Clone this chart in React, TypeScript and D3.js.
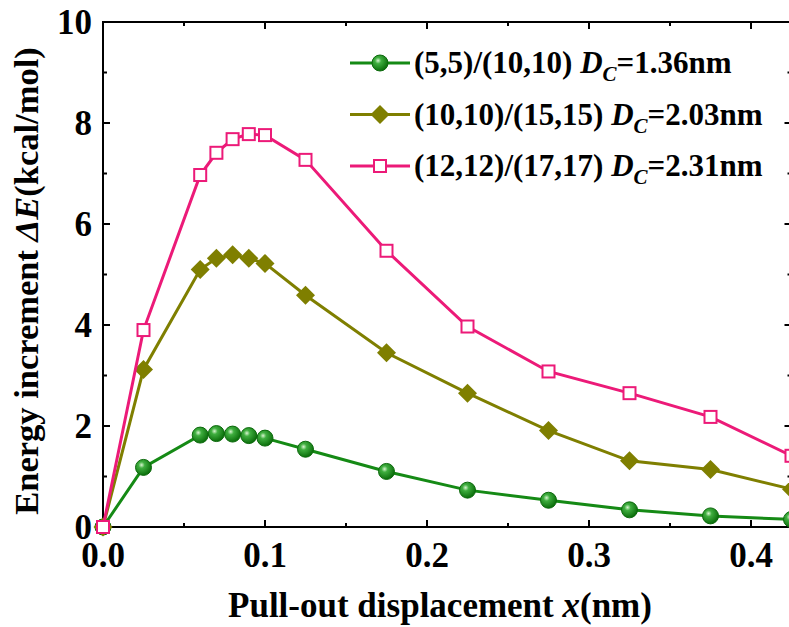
import React from "react";
import * as d3 from "d3";

const xValues = [0, 0.025, 0.06, 0.07, 0.08, 0.09, 0.1, 0.125, 0.175, 0.225, 0.275, 0.325, 0.375, 0.425];
const seriesA = [0, 1.18, 1.82, 1.85, 1.84, 1.81, 1.76, 1.54, 1.1, 0.73, 0.53, 0.34, 0.22, 0.15];
const seriesB = [0, 3.12, 5.1, 5.32, 5.39, 5.32, 5.22, 4.59, 3.45, 2.65, 1.91, 1.31, 1.14, 0.75];
const seriesC = [0, 3.9, 6.97, 7.41, 7.68, 7.78, 7.76, 7.27, 5.47, 3.97, 3.08, 2.65, 2.18, 1.41];
const legendLabels = [
  { pre: "(5,5)/(10,10) ", val: "=1.36nm" },
  { pre: "(10,10)/(15,15) ", val: "=2.03nm" },
  { pre: "(12,12)/(17,17) ", val: "=2.31nm" },
];
const xMajorTicks = [0, 0.1, 0.2, 0.3, 0.4];
const xMinorTicks = [0.05, 0.15, 0.25, 0.35];
const yMajorTicks = [0, 2, 4, 6, 8, 10];
const yMinorTicks = [1, 3, 5, 7, 9];

const W = 789, H = 627;
const L = 103, T = 22, B = 527, R = 791.5;
const GREEN = "#158a15", OLIVE = "#7f7f00", PINK = "#ec1a78";
const font = "'Liberation Serif', 'Times New Roman', serif";

export default function App() {
  const x = d3.scaleLinear().domain([0, 0.425]).range([L, R]);
  const y = d3.scaleLinear().domain([0, 10]).range([B, T]);
  const line = d3.line<number>().x((_, i) => x(xValues[i])).y((d) => y(d));
  const series = [
    { data: seriesA, color: GREEN, marker: "circle" },
    { data: seriesB, color: OLIVE, marker: "diamond" },
    { data: seriesC, color: PINK, marker: "square" },
  ];
  const marker = (type: string, cx: number, cy: number, key: any) => {
    if (type === "circle")
      return <circle key={key} cx={cx} cy={cy} r={8} fill="url(#sphere)" stroke="#0c6a0c" strokeWidth={1} />;
    if (type === "diamond") {
      const s = 9.5;
      return <path key={key} d={`M${cx},${cy - s}L${cx + s},${cy}L${cx},${cy + s}L${cx - s},${cy}Z`} fill={OLIVE} />;
    }
    return <rect key={key} x={cx - 6} y={cy - 6} width={12} height={12} fill="#fff" stroke={PINK} strokeWidth={2} />;
  };
  return (
    <svg width={W} height={H} style={{ position: "absolute", left: 0, top: 0, background: "#fff" }} fontFamily={font}>
      <defs>
        <radialGradient id="sphere" cx="0.38" cy="0.35" r="0.65">
          <stop offset="0" stopColor="#d8f5d0" />
          <stop offset="0.3" stopColor="#3fae3f" />
          <stop offset="1" stopColor="#0b6e0b" />
        </radialGradient>
      </defs>
      {/* frame */}
      <rect x={L} y={T} width={R - L} height={B - T} fill="none" stroke="#000" strokeWidth={2} />
      {/* x ticks */}
      {xMajorTicks.map((t) => (
        <g key={"xm" + t}>
          <line x1={x(t)} x2={x(t)} y1={B} y2={B - 7} stroke="#000" strokeWidth={2} />
          <line x1={x(t)} x2={x(t)} y1={T} y2={T + 7} stroke="#000" strokeWidth={2} />
          <text x={x(t)} y={567} textAnchor="middle" fontSize={35} fontWeight="bold">{t.toFixed(1)}</text>
        </g>
      ))}
      {xMinorTicks.map((t) => (
        <g key={"xn" + t}>
          <line x1={x(t)} x2={x(t)} y1={B} y2={B - 4} stroke="#000" strokeWidth={2} />
          <line x1={x(t)} x2={x(t)} y1={T} y2={T + 4} stroke="#000" strokeWidth={2} />
        </g>
      ))}
      {yMajorTicks.map((t) => (
        <g key={"ym" + t}>
          <line x1={L} x2={L + 7} y1={y(t)} y2={y(t)} stroke="#000" strokeWidth={2} />
          <line x1={R} x2={R - 7} y1={y(t)} y2={y(t)} stroke="#000" strokeWidth={2} />
          <text x={92} y={y(t)} dy="0.33em" textAnchor="end" fontSize={35} fontWeight="bold">{t}</text>
        </g>
      ))}
      {yMinorTicks.map((t) => (
        <g key={"yn" + t}>
          <line x1={L} x2={L + 4} y1={y(t)} y2={y(t)} stroke="#000" strokeWidth={2} />
          <line x1={R} x2={R - 4} y1={y(t)} y2={y(t)} stroke="#000" strokeWidth={2} />
        </g>
      ))}
      {/* series */}
      <g>
        {series.map((s, si) => (
          <g key={si}>
            <path d={line(s.data) || ""} fill="none" stroke={s.color} strokeWidth={3} />
            {s.data.map((d, i) => marker(s.marker, x(xValues[i]), y(d), i))}
          </g>
        ))}
      </g>
      {/* legend */}
      {series.map((s, i) => {
        const ly = 63 + i * 51.5;
        return (
          <g key={"lg" + i}>
            <line x1={350} x2={410} y1={ly} y2={ly} stroke={s.color} strokeWidth={3} />
            {marker(s.marker, 380, ly, "m")}
            <text x={414} y={ly} dy="0.33em" fontSize={31} fontWeight="bold">
              {legendLabels[i].pre}
              <tspan fontStyle="italic">D</tspan>
              <tspan fontStyle="italic" fontSize={21} dy={8}>C</tspan>
              <tspan dy={-8}>{legendLabels[i].val}</tspan>
            </text>
          </g>
        );
      })}
      {/* axis titles */}
      <text x={440} y={617} textAnchor="middle" fontSize={35} fontWeight="bold">
        Pull-out displacement <tspan fontStyle="italic">x</tspan>(nm)
      </text>
      <text transform="translate(38,281) rotate(-90)" textAnchor="middle" fontSize={34.5} fontWeight="bold">
        Energy increment <tspan fontStyle="italic">ΔE</tspan>(kcal/mol)
      </text>
    </svg>
  );
}
